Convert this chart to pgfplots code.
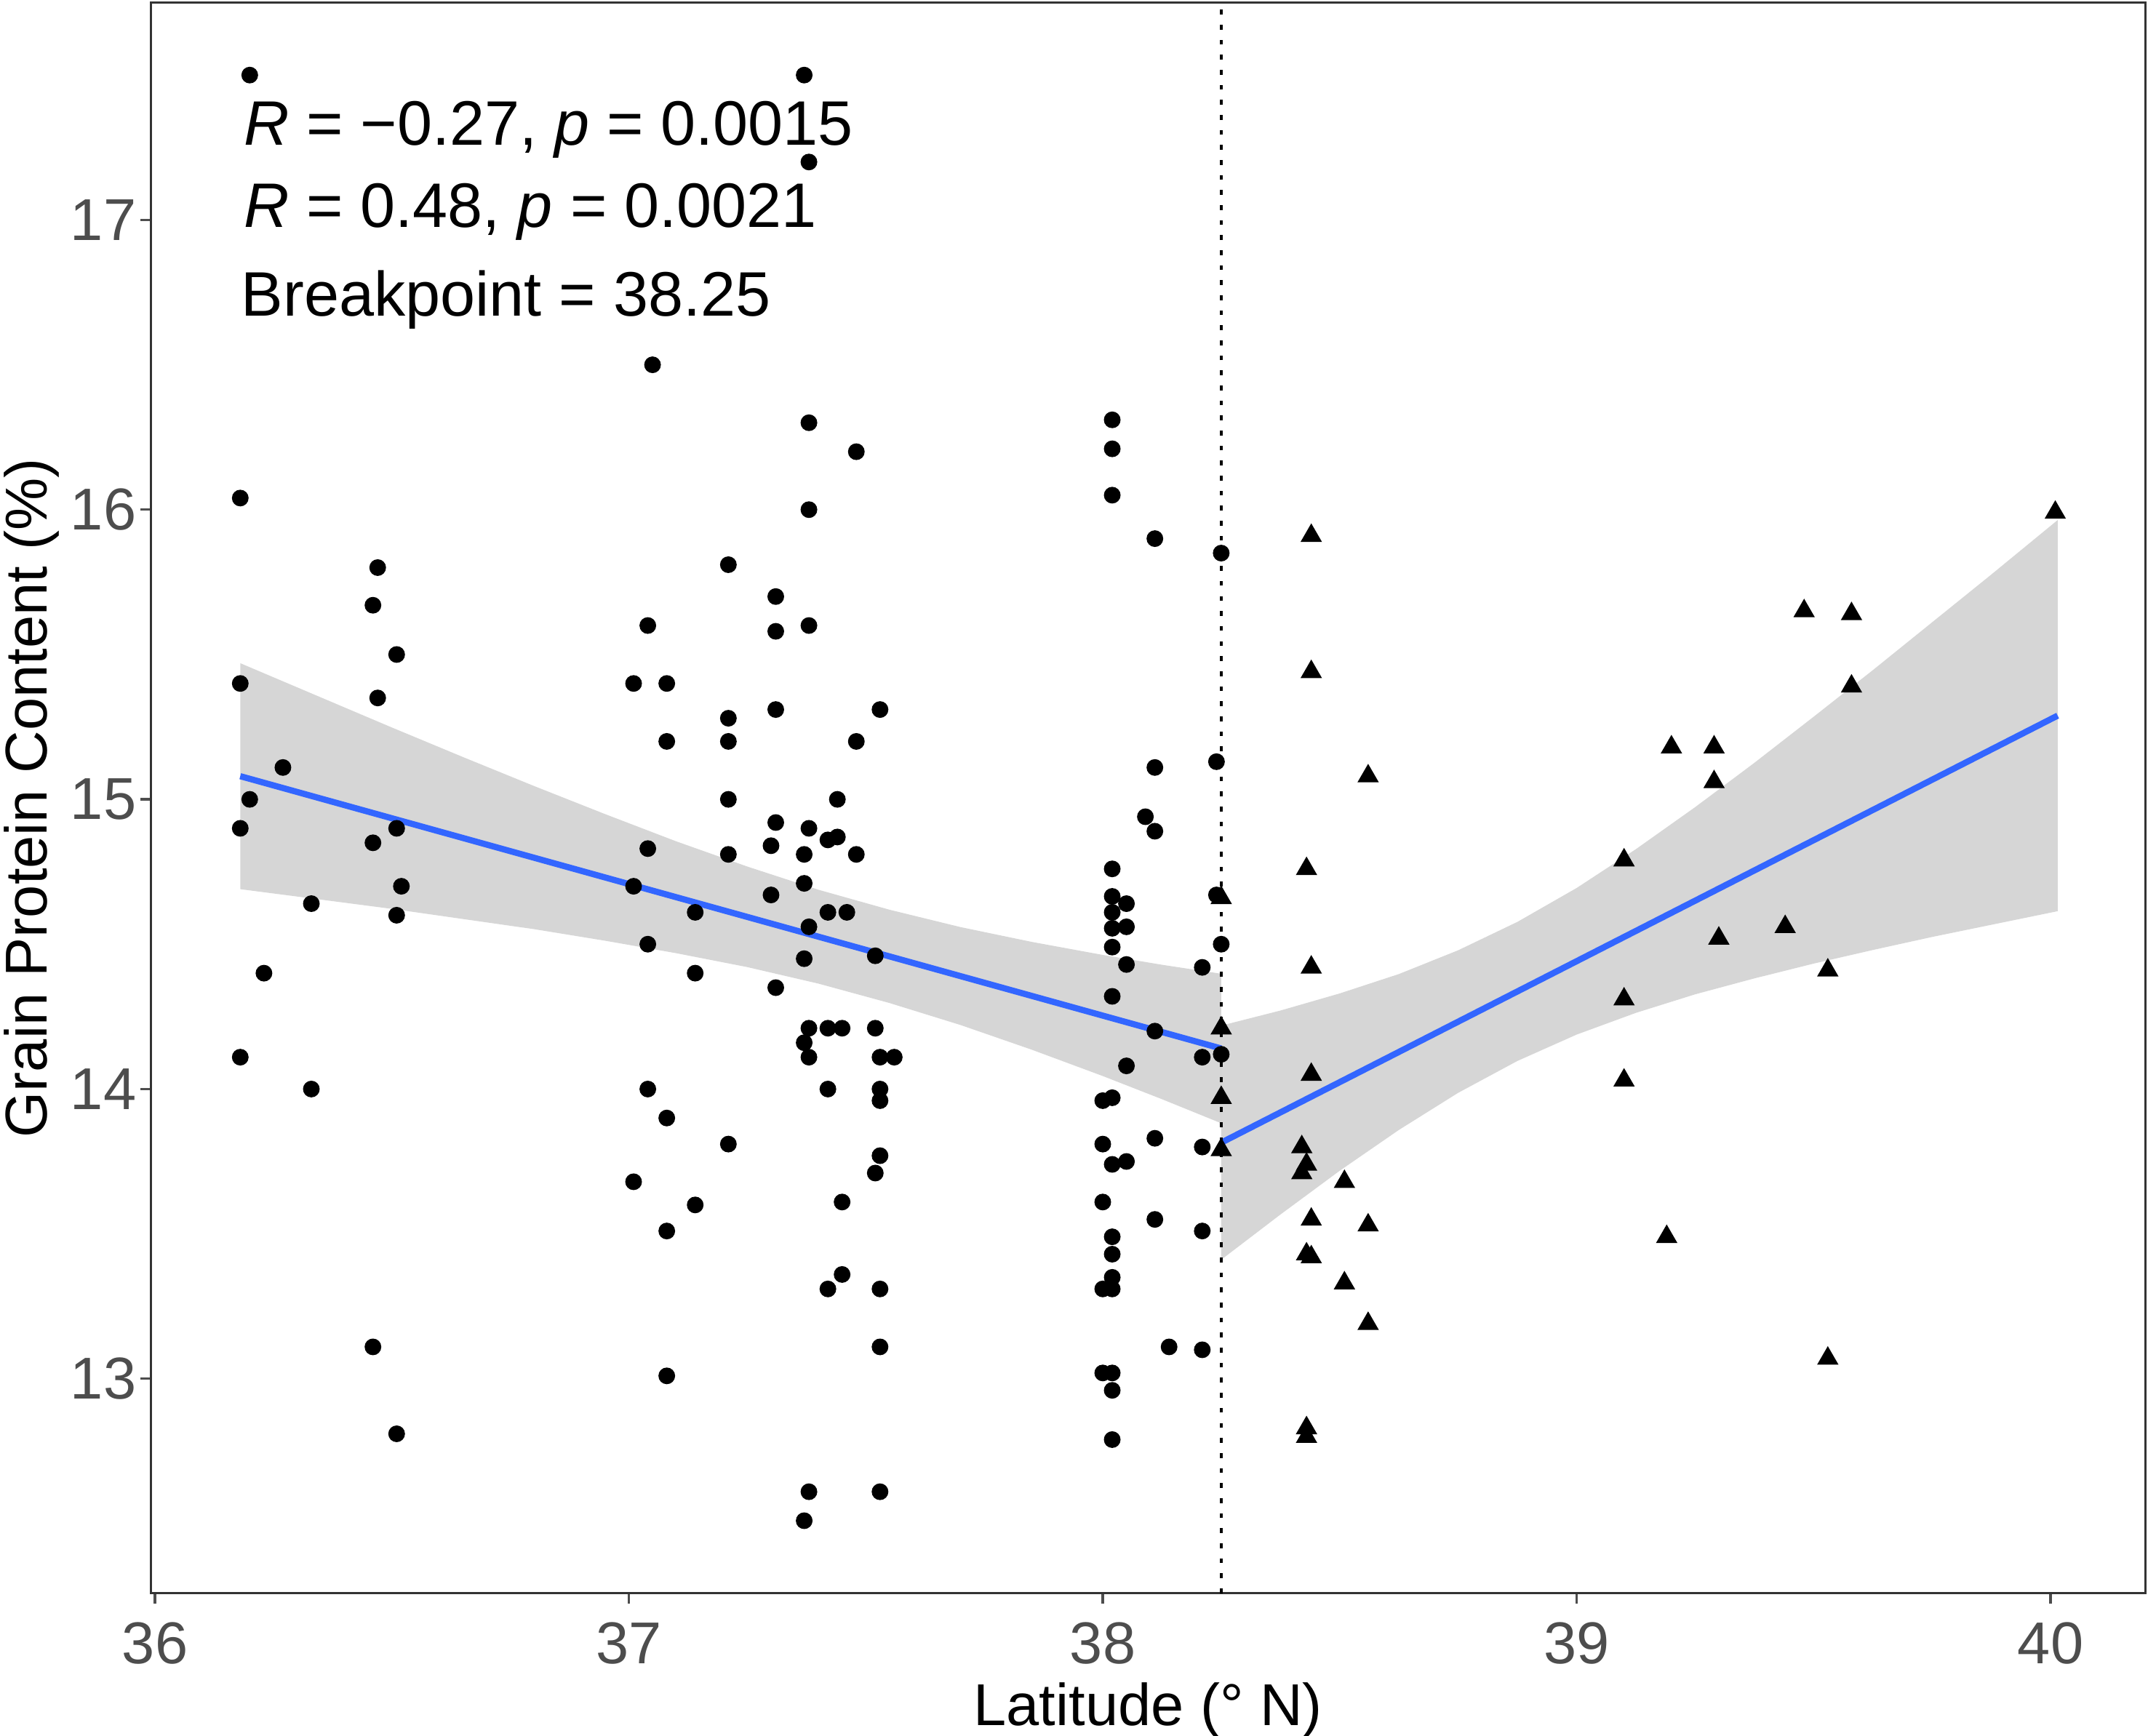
\documentclass[border=0pt]{standalone}
\usepackage{pgfplots}
\pgfplotsset{compat=1.18}
\usepackage{fontspec}
\setmainfont{Liberation Sans}
\definecolor{bandgray}{RGB}{153,153,153}
\definecolor{lineblue}{RGB}{51,102,255}
\definecolor{tickgray}{RGB}{77,77,77}
\definecolor{framegray}{RGB}{51,51,51}
\begin{document}
\begin{tikzpicture}
\path[use as bounding box] (-28.06pt,-26.5pt) rectangle (371.9pt,296.7pt);
\begin{axis}[
  scale only axis, width=371.4pt, height=296.2pt,
  xmin=35.991, xmax=40.2, ymin=12.26, ymax=17.75,
  axis line style={framegray, line width=0.45pt},
  tick style={tickgray, line width=0.45pt},
  tick align=outside, major tick length=1.9pt,
  xtick={36,37,38,39,40}, ytick={13,14,15,16,17},
  xtick pos=bottom, ytick pos=left,
  /pgf/number format/assume math mode=true,
  ticklabel style={font=\fontsize{11}{13}\selectfont, text=tickgray},
  xticklabel style={anchor=base, yshift=-11.2pt},
  yticklabel style={anchor=east, inner sep=0pt, xshift=-0.6pt},
  xlabel={Latitude (° N)}, ylabel={Grain Protein Content (\%)},
  label style={font=\fontsize{11}{13}\selectfont},
  xlabel style={at={(axis description cs:0.5,-0.0830)}, anchor=base},
  ylabel style={at={(axis description cs:-0.0520,0.5)}, anchor=base},
  clip=true,
]
% circles: latitude < breakpoint
\addplot[only marks, mark=*, mark size=1.35pt, black] coordinates {
(36.20,17.50) (36.18,16.04) (36.18,15.40) (36.18,14.90) (36.18,14.11)
(36.20,15.00) (36.23,14.40) (36.27,15.11) (36.33,14.64) (36.33,14.00)
(36.47,15.80) (36.46,15.67) (36.47,15.35) (36.51,15.50) (36.46,14.85)
(36.51,14.90) (36.52,14.70) (36.51,14.60) (36.46,13.11) (36.51,12.81)
(37.05,16.50) (37.04,15.60) (37.01,15.40) (37.04,14.83) (37.01,14.70)
(37.04,14.50) (37.04,14.00) (37.01,13.68)
(37.08,15.40) (37.08,15.20) (37.08,13.90) (37.08,13.51) (37.08,13.01)
(37.14,14.61) (37.14,14.40) (37.14,13.60)
(37.21,15.81) (37.21,15.28) (37.21,15.20) (37.21,15.00) (37.21,14.81) (37.21,13.81)
(37.31,15.70) (37.31,15.58) (37.31,15.31) (37.31,14.92) (37.30,14.84) (37.30,14.67) (37.31,14.35)
(37.37,17.50) (37.38,17.20) (37.38,16.30) (37.38,16.00) (37.38,15.60) (37.38,14.90)
(37.37,14.81) (37.37,14.71) (37.38,14.56) (37.37,14.45) (37.38,14.21) (37.37,14.16)
(37.38,14.11) (37.38,12.61) (37.37,12.51)
(37.42,14.86) (37.42,14.61) (37.42,14.21) (37.42,14.00) (37.42,13.31)
(37.44,15.00) (37.44,14.87) (37.45,14.21) (37.45,13.61) (37.45,13.36) (37.46,14.61)
(37.48,16.20) (37.48,15.20) (37.48,14.81)
(37.53,15.31) (37.52,14.46) (37.52,14.21) (37.53,14.11) (37.53,14.00) (37.53,13.96)
(37.53,13.77) (37.52,13.71) (37.53,13.31) (37.53,13.11) (37.53,12.61) (37.56,14.11)
(38.02,16.31) (38.02,16.21) (38.02,16.05) (38.02,14.76) (38.02,14.665) (38.02,14.61)
(38.02,14.555) (38.02,14.49) (38.02,14.32) (38.02,13.97) (38.02,13.74) (38.02,13.49)
(38.02,13.43) (38.02,13.35) (38.02,13.31) (38.02,13.02) (38.02,12.96) (38.02,12.79)
(38.00,13.96) (38.00,13.81) (38.00,13.61) (38.00,13.31) (38.00,13.02)
(38.05,14.64) (38.05,14.56) (38.05,14.43) (38.05,14.08) (38.05,13.75)
(38.09,14.94)
(38.11,15.90) (38.11,15.11) (38.11,14.89) (38.11,14.20) (38.11,13.83) (38.11,13.55)
(38.14,13.11)
(38.21,14.42) (38.21,14.11) (38.21,13.80) (38.21,13.51) (38.21,13.10)
(38.24,15.13) (38.24,14.67)
(38.25,15.85) (38.25,14.50) (38.25,14.12)
};
% triangles: latitude >= breakpoint
\addplot[only marks, mark=triangle*, mark size=1.9pt, black] coordinates {
(38.25,14.66) (38.25,14.21) (38.25,13.97) (38.25,13.79)
(38.44,15.91) (38.44,15.44) (38.44,14.42) (38.44,14.05) (38.44,13.55) (38.44,13.42)
(38.43,14.76) (38.43,13.43) (38.43,12.83) (38.43,12.80) (38.43,13.74)
(38.42,13.80) (38.42,13.71)
(38.51,13.68) (38.51,13.33)
(38.56,15.08) (38.56,13.53) (38.56,13.19)
(39.10,14.79) (39.10,14.31) (39.10,14.03)
(39.19,13.49) (39.20,15.18) (39.29,15.18) (39.29,15.06) (39.30,14.52)
(39.44,14.56) (39.48,15.65) (39.58,15.64) (39.58,15.39)
(39.53,14.41) (39.53,13.07) (40.01,15.99)
};
% confidence ribbons
\addplot[draw=none, fill=bandgray, fill opacity=0.4] coordinates {
(36.18,15.470) (36.35,15.352) (36.5,15.248) (36.65,15.146) (36.8,15.046)
(36.95,14.949) (37.1,14.855) (37.25,14.768) (37.4,14.688) (37.55,14.619)
(37.7,14.559) (37.85,14.508) (38.0,14.463) (38.125,14.429) (38.25,14.398)
(38.25,13.882) (38.125,13.965) (38.0,14.045) (37.85,14.136) (37.7,14.221)
(37.55,14.297) (37.4,14.364) (37.25,14.421) (37.1,14.469) (36.95,14.512)
(36.8,14.552) (36.65,14.587) (36.5,14.622) (36.35,14.654) (36.18,14.690)
} -- cycle;
\addplot[draw=none, fill=bandgray, fill opacity=0.4] coordinates {
(38.25,14.219) (38.375,14.271) (38.5,14.330) (38.625,14.397) (38.75,14.479)
(38.875,14.577) (39.0,14.694) (39.125,14.828) (39.25,14.973) (39.375,15.126)
(39.5,15.285) (39.625,15.446) (39.75,15.611) (39.875,15.776) (40.015,15.964)
(40.015,14.614) (39.875,14.567) (39.75,14.525) (39.625,14.480) (39.5,14.433)
(39.375,14.382) (39.25,14.327) (39.125,14.263) (39.0,14.188) (38.875,14.097)
(38.75,13.987) (38.625,13.859) (38.5,13.718) (38.375,13.567) (38.25,13.411)
} -- cycle;
% fitted lines
\addplot[lineblue, line width=1.15pt] coordinates {(36.18,15.080) (38.25,14.140)};
\addplot[lineblue, line width=1.15pt] coordinates {(38.25,13.815) (40.015,15.289)};
% breakpoint
\addplot[black, line width=0.55pt, dash pattern=on 0.9pt off 1.9pt] coordinates {(38.25,12.26) (38.25,17.75)};
\node[anchor=base west, inner sep=0pt, font=\fontsize{11.7}{14}\selectfont] at (axis cs:36.185,17.258) {\textit{R} = −0.27, \textit{p} = 0.0015};
\node[anchor=base west, inner sep=0pt, font=\fontsize{11.7}{14}\selectfont] at (axis cs:36.185,16.974) {\textit{R} = 0.48, \textit{p} = 0.0021};
\node[anchor=base west, inner sep=0pt, font=\fontsize{11.7}{14}\selectfont] at (axis cs:36.18,16.668) {Breakpoint = 38.25};
\end{axis}
\end{tikzpicture}
\end{document}
